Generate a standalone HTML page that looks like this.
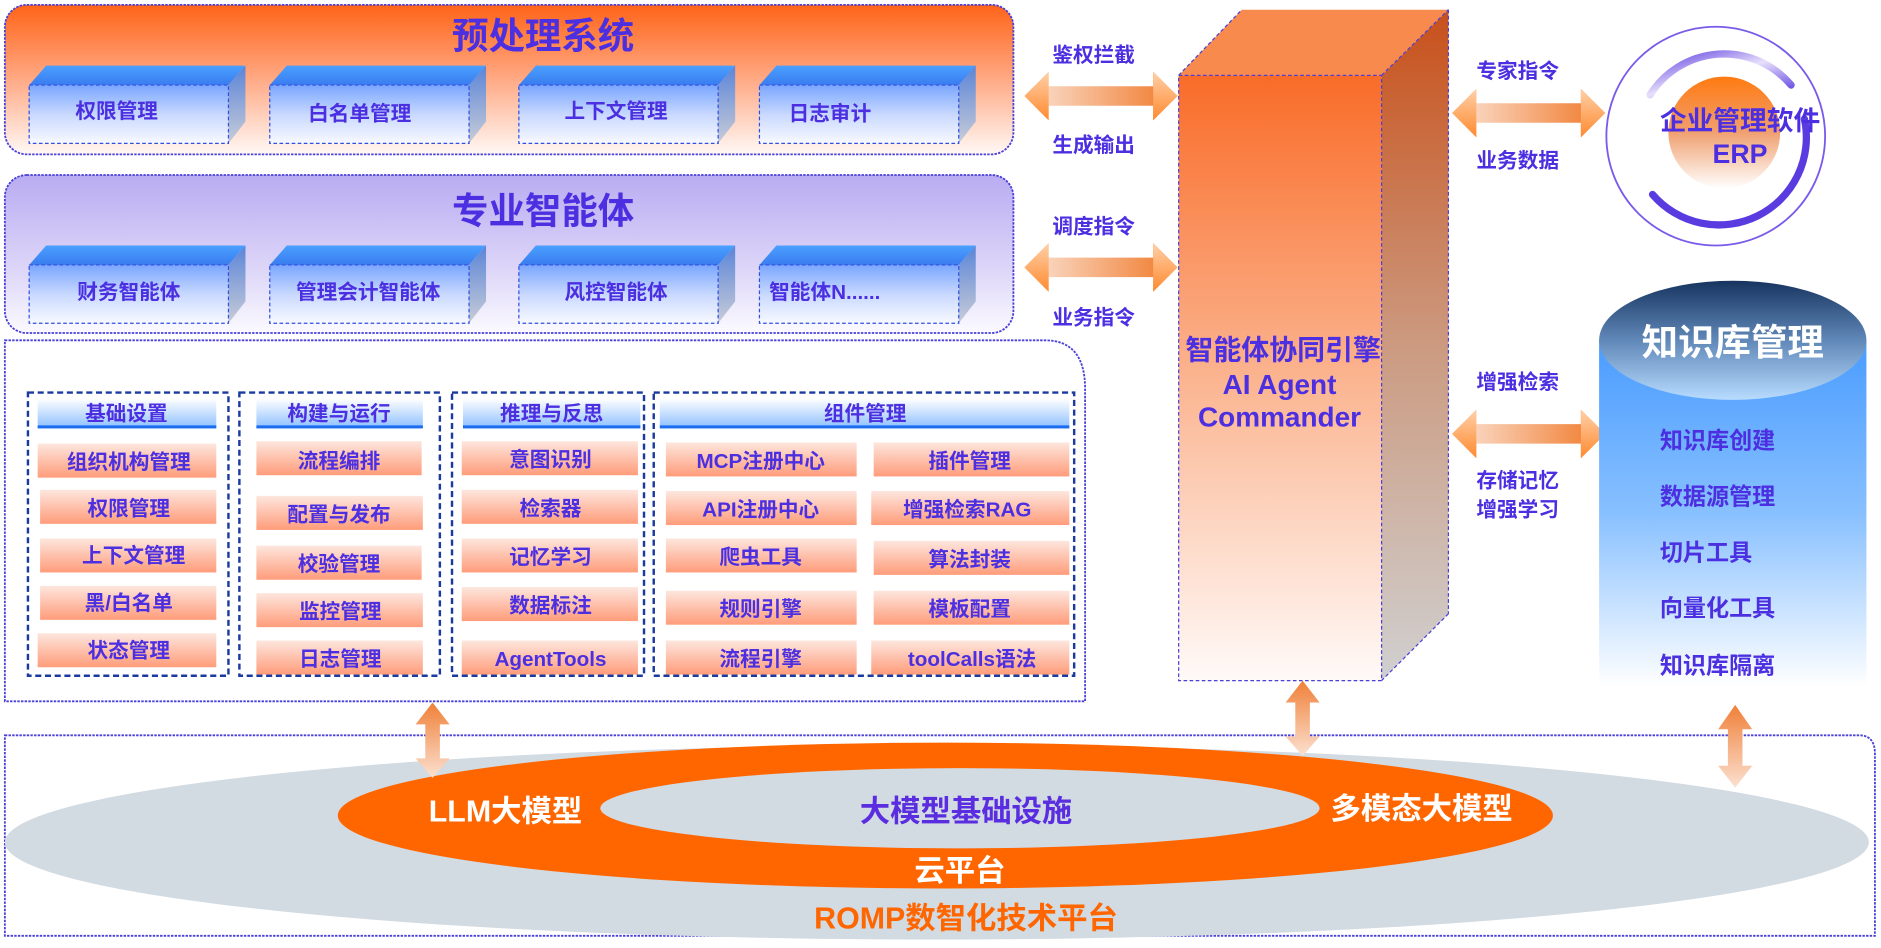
<!DOCTYPE html>
<html><head><meta charset="utf-8"><style>
html,body{margin:0;padding:0;background:#fff;}
svg{display:block;}
text{font-family:"Liberation Sans","Noto Sans CJK SC",sans-serif;font-weight:bold;}
</style></head><body>
<svg width="1881" height="948" viewBox="0 0 1548 780" preserveAspectRatio="none" xmlns="http://www.w3.org/2000/svg">
<defs>
<linearGradient id="p1" x1="0" y1="0" x2="0" y2="1"><stop offset="0" stop-color="#ff6418"/><stop offset="0.45" stop-color="#ffa27a"/><stop offset="1" stop-color="#fff8f5"/></linearGradient>
<linearGradient id="p2" x1="0" y1="0" x2="0" y2="1"><stop offset="0" stop-color="#b9acf2"/><stop offset="0.6" stop-color="#ddd6f8"/><stop offset="1" stop-color="#fbfaff"/></linearGradient>
<linearGradient id="bf" x1="0" y1="0" x2="0" y2="1"><stop offset="0" stop-color="#7aa6ff"/><stop offset="0.5" stop-color="#c8d8ff"/><stop offset="1" stop-color="#f8f9ff"/></linearGradient>
<linearGradient id="bt" x1="0" y1="0" x2="0" y2="1"><stop offset="0" stop-color="#4aa0ff"/><stop offset="1" stop-color="#3a7cf0"/></linearGradient>
<linearGradient id="bs" x1="0" y1="0" x2="0" y2="1"><stop offset="0" stop-color="#5a84d8"/><stop offset="1" stop-color="#c8ccd8"/></linearGradient>
<linearGradient id="hd" x1="0" y1="0" x2="0" y2="1"><stop offset="0" stop-color="#ffffff"/><stop offset="1" stop-color="#8ec0ff"/></linearGradient>
<linearGradient id="it" x1="0" y1="0" x2="0" y2="1"><stop offset="0" stop-color="#fde6de"/><stop offset="1" stop-color="#ff9c7a"/></linearGradient>
<linearGradient id="ef" x1="0" y1="0" x2="0" y2="1"><stop offset="0" stop-color="#f96c28"/><stop offset="0.5" stop-color="#fbb490"/><stop offset="1" stop-color="#fffaf8"/></linearGradient>
<linearGradient id="es" x1="0" y1="0" x2="0" y2="1"><stop offset="0" stop-color="#c8501a"/><stop offset="0.5" stop-color="#cc9a80"/><stop offset="1" stop-color="#d0d0d0"/></linearGradient>
<linearGradient id="ar" x1="0" y1="0" x2="1" y2="0"><stop offset="0" stop-color="#fbe4d6"/><stop offset="1" stop-color="#f07828"/></linearGradient>
<linearGradient id="ah" x1="0" y1="0" x2="0" y2="1"><stop offset="0" stop-color="#ffd0a8"/><stop offset="1" stop-color="#ff8a30"/></linearGradient>
<linearGradient id="av" x1="0" y1="0" x2="0" y2="1"><stop offset="0" stop-color="#f08038"/><stop offset="1" stop-color="#fbe0d0"/></linearGradient>
<linearGradient id="cy" x1="0" y1="0" x2="0" y2="1"><stop offset="0" stop-color="#4a9cff"/><stop offset="0.5" stop-color="#88c0ff"/><stop offset="1" stop-color="#ffffff"/></linearGradient>
<linearGradient id="ct" x1="0" y1="0" x2="0" y2="1"><stop offset="0" stop-color="#173460"/><stop offset="0.5" stop-color="#6088b8"/><stop offset="1" stop-color="#b8dcff"/></linearGradient>
<linearGradient id="orb" x1="0" y1="0" x2="0" y2="1"><stop offset="0" stop-color="#ff7a10"/><stop offset="0.5" stop-color="#f0a070"/><stop offset="1" stop-color="#ffffff"/></linearGradient>
<linearGradient id="arc" x1="0" y1="0" x2="1" y2="1"><stop offset="0" stop-color="#5a3be0"/><stop offset="0.5" stop-color="#e8e0fb"/><stop offset="1" stop-color="#5a3be0"/></linearGradient>
</defs>

<rect x="4" y="4" width="830" height="123" rx="18" fill="url(#p1)" stroke="#4a40d8" stroke-width="1.5" stroke-dasharray="2 1"/>
<text x="447" y="40" font-size="30" fill="#4b2fe0" text-anchor="middle">预处理系统</text>
<rect x="4" y="144" width="830" height="130" rx="18" fill="url(#p2)" stroke="#4a40d8" stroke-width="1.5" stroke-dasharray="2 1"/>
<text x="447" y="184" font-size="30" fill="#4b2fe0" text-anchor="middle">专业智能体</text>

<g id="boxes">
<g transform="translate(24,70)">
<polygon points="0,0 14,-16 178,-16 164,0" fill="url(#bt)"/><polygon points="164,0 178,-16 178,30 164,48" fill="url(#bs)"/><rect x="0" y="0" width="164" height="48" fill="url(#bf)" stroke="#3050e0" stroke-dasharray="3 2"/><text x="72" y="27" font-size="17" fill="#4b2fe0" text-anchor="middle">权限管理</text></g>
<g transform="translate(222,70)">
<polygon points="0,0 14,-16 178,-16 164,0" fill="url(#bt)"/><polygon points="164,0 178,-16 178,30 164,48" fill="url(#bs)"/><rect x="0" y="0" width="164" height="48" fill="url(#bf)" stroke="#3050e0" stroke-dasharray="3 2"/><text x="74" y="29" font-size="17" fill="#4b2fe0" text-anchor="middle">白名单管理</text></g>
<g transform="translate(427,70)">
<polygon points="0,0 14,-16 178,-16 164,0" fill="url(#bt)"/><polygon points="164,0 178,-16 178,30 164,48" fill="url(#bs)"/><rect x="0" y="0" width="164" height="48" fill="url(#bf)" stroke="#3050e0" stroke-dasharray="3 2"/><text x="80" y="27" font-size="17" fill="#4b2fe0" text-anchor="middle">上下文管理</text></g>
<g transform="translate(625,70)">
<polygon points="0,0 14,-16 178,-16 164,0" fill="url(#bt)"/><polygon points="164,0 178,-16 178,30 164,48" fill="url(#bs)"/><rect x="0" y="0" width="164" height="48" fill="url(#bf)" stroke="#3050e0" stroke-dasharray="3 2"/><text x="58" y="29" font-size="17" fill="#4b2fe0" text-anchor="middle">日志审计</text></g>
<g transform="translate(24,218)">
<polygon points="0,0 14,-16 178,-16 164,0" fill="url(#bt)"/><polygon points="164,0 178,-16 178,30 164,48" fill="url(#bs)"/><rect x="0" y="0" width="164" height="48" fill="url(#bf)" stroke="#3050e0" stroke-dasharray="3 2"/><text x="82" y="28" font-size="17" fill="#4b2fe0" text-anchor="middle">财务智能体</text></g>
<g transform="translate(222,218)">
<polygon points="0,0 14,-16 178,-16 164,0" fill="url(#bt)"/><polygon points="164,0 178,-16 178,30 164,48" fill="url(#bs)"/><rect x="0" y="0" width="164" height="48" fill="url(#bf)" stroke="#3050e0" stroke-dasharray="3 2"/><text x="81" y="28" font-size="17" fill="#4b2fe0" text-anchor="middle">管理会计智能体</text></g>
<g transform="translate(427,218)">
<polygon points="0,0 14,-16 178,-16 164,0" fill="url(#bt)"/><polygon points="164,0 178,-16 178,30 164,48" fill="url(#bs)"/><rect x="0" y="0" width="164" height="48" fill="url(#bf)" stroke="#3050e0" stroke-dasharray="3 2"/><text x="80" y="28" font-size="17" fill="#4b2fe0" text-anchor="middle">风控智能体</text></g>
<g transform="translate(625,218)">
<polygon points="0,0 14,-16 178,-16 164,0" fill="url(#bt)"/><polygon points="164,0 178,-16 178,30 164,48" fill="url(#bs)"/><rect x="0" y="0" width="164" height="48" fill="url(#bf)" stroke="#3050e0" stroke-dasharray="3 2"/><text x="8" y="28" font-size="17" fill="#4b2fe0">智能体N......</text></g>
</g>

<path d="M4,280 H860 Q893,280 893,320 V577 H4 Z" fill="#fff" stroke="#4a40d8" stroke-width="1.5" stroke-dasharray="2 1"/>
<g fill="none" stroke="#1a3aa0" stroke-width="2" stroke-dasharray="5 3">
<rect x="23" y="323" width="165" height="233"/>
<rect x="197" y="323" width="165" height="233"/>
<rect x="372" y="323" width="158" height="233"/>
<rect x="538" y="323" width="346" height="233"/>
</g>
<g>
<rect x="31" y="328" width="147" height="24" fill="url(#hd)"/><rect x="31" y="350" width="147" height="2.5" fill="#1a6cf0"/>
<rect x="211" y="328" width="137" height="24" fill="url(#hd)"/><rect x="211" y="350" width="137" height="2.5" fill="#1a6cf0"/>
<rect x="381" y="328" width="146" height="24" fill="url(#hd)"/><rect x="381" y="350" width="146" height="2.5" fill="#1a6cf0"/>
<rect x="543" y="328" width="337" height="24" fill="url(#hd)"/><rect x="543" y="350" width="337" height="2.5" fill="#1a6cf0"/>
</g>
<g font-size="17" fill="#4b2fe0" text-anchor="middle">
<text x="104" y="346">基础设置</text>
<text x="279" y="346">构建与运行</text>
<text x="454" y="346">推理与反思</text>
<text x="712" y="346">组件管理</text>
</g>
<g fill="url(#it)">
<rect x="31" y="365" width="147" height="28"/><rect x="33" y="403" width="145" height="28"/><rect x="33" y="443" width="145" height="28"/><rect x="33" y="482" width="145" height="28"/><rect x="31" y="521" width="147" height="28"/>
<rect x="211" y="363" width="136" height="28"/><rect x="211" y="408" width="137" height="28"/><rect x="211" y="449" width="136" height="28"/><rect x="211" y="488" width="137" height="28"/><rect x="211" y="527" width="137" height="28"/>
<rect x="380" y="363" width="145" height="28"/><rect x="380" y="403" width="145" height="28"/><rect x="380" y="443" width="145" height="28"/><rect x="380" y="483" width="145" height="28"/><rect x="380" y="527" width="145" height="28"/>
<rect x="548" y="364" width="157" height="28"/><rect x="548" y="404" width="157" height="28"/><rect x="548" y="443" width="157" height="28"/><rect x="548" y="486" width="157" height="28"/><rect x="548" y="527" width="157" height="28"/>
<rect x="719" y="364" width="161" height="28"/><rect x="717" y="404" width="163" height="28"/><rect x="719" y="445" width="161" height="28"/><rect x="719" y="486" width="161" height="28"/><rect x="717" y="527" width="163" height="28"/>
</g>
<g font-size="17" fill="#4b2fe0" text-anchor="middle">
<text x="106" y="386">组织机构管理</text><text x="106" y="424">权限管理</text><text x="110" y="463">上下文管理</text><text x="106" y="502">黑/白名单</text><text x="106" y="541">状态管理</text>
<text x="279" y="385">流程编排</text><text x="279" y="429">配置与发布</text><text x="279" y="470">校验管理</text><text x="280" y="509">监控管理</text><text x="280" y="548">日志管理</text>
<text x="453" y="384">意图识别</text><text x="453" y="424">检索器</text><text x="453" y="464">记忆学习</text><text x="453" y="504">数据标注</text><text x="453" y="548">AgentTools</text>
<text x="626" y="385">MCP注册中心</text><text x="626" y="425">API注册中心</text><text x="626" y="464">爬虫工具</text><text x="626" y="507">规则引擎</text><text x="626" y="548">流程引擎</text>
<text x="798" y="385">插件管理</text><text x="796" y="425">增强检索RAG</text><text x="798" y="466">算法封装</text><text x="798" y="507">模板配置</text><text x="800" y="548">toolCalls语法</text>
</g>

<g id="harr">
<g transform="translate(843,79)">
<polygon points="0,0 20,-20 20,-8 106,-8 106,-20 126,0 106,20 106,8 20,8 20,20" fill="url(#ar)"/>
<polygon points="0,0 20,-20 20,20" fill="url(#ah)"/><polygon points="126,0 106,-20 106,20" fill="url(#ah)"/></g>
<g transform="translate(843,220)">
<polygon points="0,0 20,-20 20,-8 106,-8 106,-20 126,0 106,20 106,8 20,8 20,20" fill="url(#ar)"/>
<polygon points="0,0 20,-20 20,20" fill="url(#ah)"/><polygon points="126,0 106,-20 106,20" fill="url(#ah)"/></g>
<g transform="translate(1195,93)">
<polygon points="0,0 20,-20 20,-8 106,-8 106,-20 126,0 106,20 106,8 20,8 20,20" fill="url(#ar)"/>
<polygon points="0,0 20,-20 20,20" fill="url(#ah)"/><polygon points="126,0 106,-20 106,20" fill="url(#ah)"/></g>
<g transform="translate(1195,357)">
<polygon points="0,0 20,-20 20,-8 106,-8 106,-20 126,0 106,20 106,8 20,8 20,20" fill="url(#ar)"/>
<polygon points="0,0 20,-20 20,20" fill="url(#ah)"/><polygon points="126,0 106,-20 106,20" fill="url(#ah)"/></g>
</g>
<g font-size="17" fill="#4b2fe0" text-anchor="middle">
<text x="900" y="51">鉴权拦截</text><text x="900" y="125">生成输出</text>
<text x="900" y="192">调度指令</text><text x="900" y="267">业务指令</text>
<text x="1249" y="64">专家指令</text><text x="1249" y="138">业务数据</text>
<text x="1249" y="320">增强检索</text><text x="1249" y="401">存储记忆</text><text x="1249" y="425">增强学习</text>
</g>

<polygon points="970,62 1022,8 1192,8 1137,62" fill="#f98a4e"/>
<polygon points="1137,62 1192,8 1192,505 1137,560" fill="url(#es)"/>
<rect x="970" y="62" width="167" height="498" fill="url(#ef)" stroke="#4a40d8" stroke-dasharray="3 2"/>
<line x1="970" y1="62" x2="1022" y2="8" stroke="#4a40d8" stroke-dasharray="3 2"/>
<line x1="1137" y1="62" x2="1192" y2="8" stroke="#4a40d8" stroke-dasharray="3 2"/>
<line x1="1192" y1="8" x2="1192" y2="505" stroke="#4a40d8" stroke-dasharray="3 2"/>
<line x1="1192" y1="505" x2="1137" y2="560" stroke="#4a40d8" stroke-dasharray="3 2"/>
<g font-size="23" fill="#4b2fe0" text-anchor="middle">
<text x="1056" y="296">智能体协同引擎</text><text x="1053" y="324">AI Agent</text><text x="1053" y="351">Commander</text>
</g>

<circle cx="1412" cy="112" r="90" fill="none" stroke="#6a48e8" stroke-width="1.5" stroke-opacity="0.9"/>
<path d="M1358,78 A72,72 0 0 1 1474,70" fill="none" stroke="url(#arc)" stroke-width="6" stroke-linecap="round"/>
<path d="M1485,98 A72,72 0 0 1 1360,160" fill="none" stroke="#5a3be0" stroke-width="6" stroke-linecap="round"/>
<circle cx="1419" cy="109" r="46" fill="url(#orb)"/>
<g font-size="22" fill="#4b2fe0" text-anchor="middle">
<text x="1432" y="107">企业管理软件</text><text x="1432" y="134">ERP</text>
</g>

<rect x="1316" y="280" width="220" height="285" fill="url(#cy)"/>
<ellipse cx="1426" cy="280" rx="110" ry="49" fill="url(#ct)"/>
<text x="1426" y="292" font-size="30" fill="#fff" text-anchor="middle">知识库管理</text>
<g font-size="19" fill="#4b2fe0">
<text x="1366" y="369">知识库创建</text><text x="1366" y="415">数据源管理</text><text x="1366" y="461">切片工具</text><text x="1366" y="507">向量化工具</text><text x="1366" y="554">知识库隔离</text>
</g>

<path d="M4,605 H1530 Q1543,605 1543,620 V770 H4 Z" fill="#fff" stroke="#4a40d8" stroke-width="1.5" stroke-dasharray="2 1"/>
<ellipse cx="771" cy="693" rx="767" ry="80" fill="#d2dae2"/>
<ellipse cx="778" cy="671" rx="500" ry="60" fill="#ff6600"/>
<ellipse cx="790" cy="665" rx="296" ry="33" fill="#d2dae2"/>
<g font-size="25" text-anchor="middle">
<text x="416" y="676" fill="#fff">LLM大模型</text>
<text x="795" y="676" fill="#5a2ee0">大模型基础设施</text>
<text x="1170" y="674" fill="#fff">多模态大模型</text>
<text x="790" y="725" fill="#fff">云平台</text>
<text x="795" y="764" fill="#ff6600">ROMP数智化技术平台</text>
</g>

<g id="varr">
<g transform="translate(356,578)"><polygon points="0,0 -14,18 -6,18 -6,46 -14,46 0,62 14,46 6,46 6,18 14,18" fill="url(#av)"/></g>
<g transform="translate(1072,560)"><polygon points="0,0 -14,18 -6,18 -6,46 -14,46 0,62 14,46 6,46 6,18 14,18" fill="url(#av)"/></g>
<g transform="translate(1428,580)"><polygon points="0,0 -14,20 -6,20 -6,50 -14,50 0,68 14,50 6,50 6,20 14,20" fill="url(#av)"/></g>
</g>
</svg>
</body></html>
